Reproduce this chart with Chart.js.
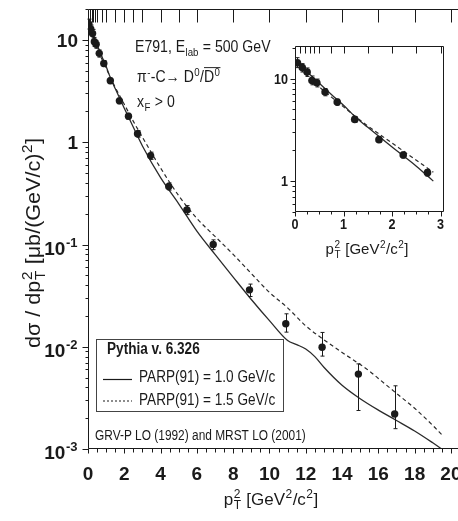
<!DOCTYPE html>
<html>
<head>
<meta charset="utf-8">
<script src="https://cdn.jsdelivr.net/npm/chart.js@4"></script>
<style>
  html, body { margin: 0; padding: 0; background: #fff; }
  #wrap { position: relative; width: 458px; height: 521px; overflow: hidden; }
  #main { position: absolute; left: 0; top: 0; }
  #inset { position: absolute; left: 270px; top: 40px; }
</style>
</head>
<body>
<div id="wrap">
  <canvas id="main" width="458" height="521"></canvas>
  <canvas id="inset" width="188" height="230"></canvas>
</div>
<script>
var INK = '#1a1a1a';
var FONT = '"Liberation Sans", Arial, sans-serif';

// E791 data, pi- C -> D0/D0bar, xF > 0
var ptBins = [0.05, 0.15, 0.25, 0.35, 0.45, 0.62, 0.87, 1.23, 1.73, 2.23, 2.73, 3.45, 4.45, 5.45, 6.9, 8.9, 10.9, 12.9, 14.9, 16.9];
var xsec   = [14.3, 12.8, 11.6, 9.6, 9.1, 7.4, 5.9, 4.0, 2.54, 1.8, 1.21, 0.74, 0.37, 0.218, 0.100, 0.036, 0.0168, 0.0099, 0.0054, 0.0022];
var xsecHi = [16.0, 14.0, 12.7, 10.6, 9.9, 8.0, 6.3, 4.25, 2.7, 1.92, 1.3, 0.8, 0.40, 0.24, 0.111, 0.041, 0.021, 0.0138, 0.0068, 0.00415];
var xsecLo = [12.8, 11.6, 10.5, 8.7, 8.3, 6.8, 5.5, 3.75, 2.38, 1.68, 1.12, 0.68, 0.34, 0.196, 0.089, 0.031, 0.0139, 0.0081, 0.00238, 0.00158];

// Pythia v. 6.326 curves
var curvePt10 = [0, 0.2, 0.5, 0.75, 1.0, 1.25, 1.5, 2.0, 2.5, 3.0, 4.0, 5.0, 6.0, 7.0, 8.0, 9.0, 10.0, 11.0, 11.5, 12.0, 12.5, 13.0, 14.0, 15.0, 16.0, 17.0, 18.0, 19.0, 19.5];
var parp10    = [15.5, 12.3, 9.0, 7.0, 5.5, 4.2, 3.35, 2.15, 1.4, 0.92, 0.45, 0.25, 0.135, 0.08, 0.048, 0.029, 0.018, 0.0115, 0.0105, 0.0095, 0.008, 0.0063, 0.0042, 0.0031, 0.0024, 0.0019, 0.0015, 0.00115, 0.001];
var curvePt15 = [0, 0.2, 0.5, 1.0, 1.5, 2.0, 2.5, 3.0, 4.0, 5.0, 6.0, 7.0, 8.0, 9.0, 10.0, 11.0, 12.0, 13.0, 14.0, 15.0, 15.5, 16.0, 17.0, 18.0, 19.0, 19.5];
var parp15    = [14.0, 11.2, 8.3, 5.3, 3.45, 2.35, 1.6, 1.12, 0.56, 0.3, 0.18, 0.12, 0.08, 0.052, 0.034, 0.024, 0.016, 0.0117, 0.0088, 0.0067, 0.0058, 0.0049, 0.0035, 0.0025, 0.0017, 0.00138];

// inset: pT^2 < 3 only
var insetPt     = [0, 0.2, 0.5, 0.75, 1.0, 1.25, 1.5, 2.0, 2.5, 2.85];
var insetParp10 = [15.5, 12.3, 9.0, 7.0, 5.5, 4.2, 3.35, 2.15, 1.4, 1.0];
var insetParp15 = [14.0, 11.2, 8.3, 6.6, 5.3, 4.25, 3.45, 2.35, 1.6, 1.22];
var insetCount = 11;

// bin edges marked along the top frame
var binEdges = [0, 0.1, 0.2, 0.3, 0.4, 0.5, 0.75, 1, 1.5, 2, 2.5, 3, 4, 5, 6, 8, 10, 12, 14, 16, 18, 20];

var xLabelsMain  = [0, 2, 4, 6, 8, 10, 12, 14, 16, 18, 20];
var yLabelsMain  = [10, 1, 0.1, 0.01, 0.001];
var xLabelsInset = [0, 1, 2, 3];
var yLabelsInset = [10, 1];

function pts(xs, ys) {
    return xs.map(function (x, i) { return { x: x, y: ys[i] }; });
}

// text with sub/superscripts; parts = [{t, sub, sup, bar}]
function drawRich(ctx, parts, x, y, o) {
    if (typeof parts === 'string') parts = [{ t: parts }];
    var size = o.size, small = Math.round(size * 0.68);
    var w8 = o.weight || 'normal';
    var base = w8 + ' ' + size + 'px ' + FONT;
    var scr = w8 + ' ' + small + 'px ' + FONT;
    var w = 0;
    parts.forEach(function (p) {
        ctx.font = base;
        p._w = ctx.measureText(p.t).width;
        ctx.font = scr;
        var s = 0;
        if (p.sub) s = Math.max(s, ctx.measureText(p.sub).width);
        if (p.sup) s = Math.max(s, ctx.measureText(p.sup).width);
        p._s = s ? s + 1 : 0;
        w += p._w + p._s;
    });
    var start = o.align === 'center' ? -w / 2 : (o.align === 'right' ? -w : 0);
    ctx.save();
    ctx.translate(x, y);
    if (o.rot) ctx.rotate(o.rot);
    ctx.scale(o.sx || 1, 1);
    ctx.fillStyle = INK;
    ctx.strokeStyle = INK;
    ctx.textAlign = 'left';
    ctx.textBaseline = 'alphabetic';
    var cx = start;
    parts.forEach(function (p) {
        var x0 = cx;
        ctx.font = base;
        ctx.fillText(p.t, cx, 0);
        cx += p._w;
        ctx.font = scr;
        if (p.sup) ctx.fillText(p.sup, cx + 0.5, -size * 0.4);
        if (p.sub) ctx.fillText(p.sub, cx + 0.5, size * 0.26);
        cx += p._s;
        if (p.bar) {
            ctx.lineWidth = 1;
            ctx.beginPath();
            ctx.moveTo(x0, -size * 0.9);
            ctx.lineTo(cx, -size * 0.9);
            ctx.stroke();
        }
    });
    ctx.restore();
}

function logLabel(v) {
    if (v >= 1) return String(v);
    return [{ t: '10', sup: String(Math.round(Math.log10(v))) }];
}

var errorBars = {
    id: 'errorBars',
    afterDatasetsDraw: function (chart) {
        var ctx = chart.ctx, xs = chart.scales.x, ys = chart.scales.y;
        var n = chart.options.plugins.errorBars.count;
        ctx.save();
        ctx.strokeStyle = INK;
        ctx.lineWidth = 1;
        for (var i = 0; i < n; i++) {
            var px = Math.round(xs.getPixelForValue(ptBins[i])) + 0.5;
            var top = ys.getPixelForValue(xsecHi[i]);
            var bot = ys.getPixelForValue(xsecLo[i]);
            ctx.beginPath();
            ctx.moveTo(px, top); ctx.lineTo(px, bot);
            ctx.moveTo(px - 2, top); ctx.lineTo(px + 2, top);
            ctx.moveTo(px - 2, bot); ctx.lineTo(px + 2, bot);
            ctx.stroke();
        }
        ctx.restore();
    }
};

// axes, ticks and tick labels drawn from the chart's own scales
var frame = {
    id: 'frame',
    afterDraw: function (chart) {
        var f = chart.options.plugins.frame;
        var ctx = chart.ctx, a = chart.chartArea, xs = chart.scales.x, ys = chart.scales.y;
        var L = Math.round(a.left) + 0.5, B = Math.round(a.bottom) - 0.5, T = Math.round(a.top) + 0.5;
        var R = f.box ? Math.round(a.right) - 0.5 : chart.width;
        ctx.save();
        ctx.strokeStyle = INK;
        ctx.lineWidth = 1;
        ctx.beginPath();
        ctx.moveTo(L, T); ctx.lineTo(L, B); ctx.lineTo(R, B);
        ctx.moveTo(L, T); ctx.lineTo(R, T);
        if (f.box) { ctx.moveTo(R, T); ctx.lineTo(R, B); }

        // log ticks on the left, outward
        for (var e = -4; e <= 2; e++) {
            for (var k = 1; k <= 9; k++) {
                var v = k * Math.pow(10, e);
                if (v < ys.min * 0.999 || v > ys.max * 1.001) continue;
                var py = Math.round(ys.getPixelForValue(v)) + 0.5;
                var len = k === 1 ? f.yMajor : f.yMinor;
                ctx.moveTo(L - len, py); ctx.lineTo(L, py);
            }
        }
        // linear ticks on the bottom, outward
        for (var xv = 0; xv <= xs.max + 1e-9; xv += f.xStep) {
            var px = Math.round(xs.getPixelForValue(xv)) + 0.5;
            var major = f.xLabels.indexOf(Math.round(xv * 100) / 100) >= 0;
            ctx.moveTo(px, B); ctx.lineTo(px, B + (major ? f.xMajor : f.xMinor));
        }
        // bin edges on the top, inward
        binEdges.forEach(function (b) {
            if (b <= xs.min || b > xs.max) return;
            var bx = Math.round(xs.getPixelForValue(b)) + 0.5;
            ctx.moveTo(bx, T); ctx.lineTo(bx, T + f.topLen);
        });
        ctx.stroke();

        f.yLabels.forEach(function (v) {
            var py = ys.getPixelForValue(v);
            var lab = logLabel(v);
            drawRich(ctx, lab, a.left - f.yGap, py + (typeof lab === 'string' ? f.yDrop : f.yDropSup),
                { size: f.tickSize, weight: f.tickWeight, sx: f.tickSx, align: 'right' });
        });
        f.xLabels.forEach(function (v) {
            drawRich(ctx, String(v), xs.getPixelForValue(v), a.bottom + f.xDrop,
                { size: f.tickSize, weight: f.tickWeight, sx: f.tickSx, align: 'center' });
        });
        ctx.restore();
    }
};

var ptTitle = [{ t: 'p', sub: 'T', sup: '2' }, { t: ' [GeV', sup: '2' }, { t: '/c', sup: '2' }, { t: ']' }];

var notes = {
    id: 'notes',
    afterDraw: function (chart) {
        var ctx = chart.ctx;
        drawRich(ctx, ptTitle, 271, 505, { size: 17, align: 'center' });
        drawRich(ctx, [{ t: 'd\u03c3 / dp', sub: 'T', sup: '2' }, { t: ' [\u03bcb/(GeV/c)', sup: '2' }, { t: ']' }],
            40, 243, { size: 20, sx: 1.08, align: 'center', rot: -Math.PI / 2 });

        drawRich(ctx, [{ t: 'E791, E', sub: 'lab' }, { t: ' = 500 GeV' }], 135, 52, { size: 16, sx: 0.88 });
        drawRich(ctx, [{ t: '\u03c0', sup: '-' }, { t: '-C\u2192 D', sup: '0' }, { t: '/' }, { t: 'D', sup: '0', bar: true }],
            137, 82, { size: 16, sx: 0.88 });
        drawRich(ctx, [{ t: 'x', sub: 'F' }, { t: ' > 0' }], 137, 107, { size: 16, sx: 0.88 });

        // legend box
        ctx.save();
        ctx.strokeStyle = '#444';
        ctx.lineWidth = 1;
        ctx.strokeRect(96.5, 339.5, 187, 72);
        ctx.strokeStyle = INK;
        ctx.lineWidth = 1.2;
        ctx.beginPath();
        ctx.moveTo(103, 379.5); ctx.lineTo(132, 379.5);
        ctx.stroke();
        ctx.setLineDash([2, 2]);
        ctx.beginPath();
        ctx.moveTo(103, 401); ctx.lineTo(132, 401);
        ctx.stroke();
        ctx.restore();
        drawRich(ctx, 'Pythia v. 6.326', 107, 354, { size: 16, weight: 'bold', sx: 0.85 });
        drawRich(ctx, 'PARP(91) = 1.0 GeV/c', 139, 382, { size: 16, sx: 0.85 });
        drawRich(ctx, 'PARP(91) = 1.5 GeV/c', 139, 405, { size: 16, sx: 0.85 });
        drawRich(ctx, 'GRV-P LO (1992) and MRST LO (2001)', 95, 440, { size: 14, sx: 0.85 });
    }
};

var insetNotes = {
    id: 'insetNotes',
    afterDraw: function (chart) {
        drawRich(chart.ctx, ptTitle, 97, 214, { size: 15, align: 'center' });
    }
};

function lineSets(x10, y10, x15, y15) {
    return [
        { data: pts(x10, y10), showLine: true, pointRadius: 0, borderColor: '#2a2a2a', borderWidth: 1.3,
          cubicInterpolationMode: 'monotone' },
        { data: pts(x15, y15), showLine: true, pointRadius: 0, borderColor: '#2a2a2a',
          borderWidth: 1.2, borderDash: [4, 3], cubicInterpolationMode: 'monotone' }
    ];
}

function hiddenAxis(extra) {
    return Object.assign({ ticks: { display: false }, grid: { display: false }, border: { display: false } }, extra);
}

function pointSet(n, r) {
    return { data: pts(ptBins.slice(0, n), xsec.slice(0, n)), showLine: false, pointRadius: r,
             pointBackgroundColor: INK, pointBorderColor: INK, pointBorderWidth: 0 };
}

new Chart(document.getElementById('main'), {
    type: 'scatter',
    data: { datasets: [pointSet(ptBins.length, 3.7)].concat(lineSets(curvePt10, parp10, curvePt15, parp15)) },
    options: {
        responsive: false,
        animation: false,
        layout: { padding: { top: 9, right: 0, bottom: 0, left: 0 }, autoPadding: false },
        plugins: {
            legend: { display: false },
            tooltip: { enabled: false },
            errorBars: { count: ptBins.length },
            frame: { box: false, yMajor: 6, yMinor: 3, xStep: 0.5, xMajor: 5, xMinor: 4, topLen: 13,
                     xLabels: xLabelsMain, yLabels: yLabelsMain, tickSize: 19, tickWeight: 'bold', tickSx: 1,
                     yGap: 10, yDrop: 7, yDropSup: 10, xDrop: 31 }
        },
        scales: {
            x: hiddenAxis({ type: 'linear', min: 0, max: 20.39, afterFit: function (s) { s.height = 72; } }),
            y: hiddenAxis({ type: 'logarithmic', min: 0.001, max: 20.1, afterFit: function (s) { s.width = 88; } })
        }
    },
    plugins: [errorBars, frame, notes]
});

new Chart(document.getElementById('inset'), {
    type: 'scatter',
    data: { datasets: [pointSet(insetCount, 3.8)].concat(lineSets(insetPt, insetParp10, insetPt, insetParp15)) },
    options: {
        responsive: false,
        animation: false,
        layout: { padding: { top: 6, right: 14, bottom: 0, left: 0 }, autoPadding: false },
        plugins: {
            legend: { display: false },
            tooltip: { enabled: false },
            errorBars: { count: insetCount },
            frame: { box: true, yMajor: 5, yMinor: 3, xStep: 0.25, xMajor: 5, xMinor: 3, topLen: 7,
                     xLabels: xLabelsInset, yLabels: yLabelsInset, tickSize: 14, tickWeight: 'bold', tickSx: 0.9,
                     yGap: 7, yDrop: 5, yDropSup: 8, xDrop: 17 }
        },
        scales: {
            x: hiddenAxis({ type: 'linear', min: 0, max: 3.07, afterFit: function (s) { s.height = 58; } }),
            y: hiddenAxis({ type: 'logarithmic', min: 0.5, max: 20.8, afterFit: function (s) { s.width = 25; } })
        }
    },
    plugins: [errorBars, frame, insetNotes]
});
</script>
</body>
</html>
